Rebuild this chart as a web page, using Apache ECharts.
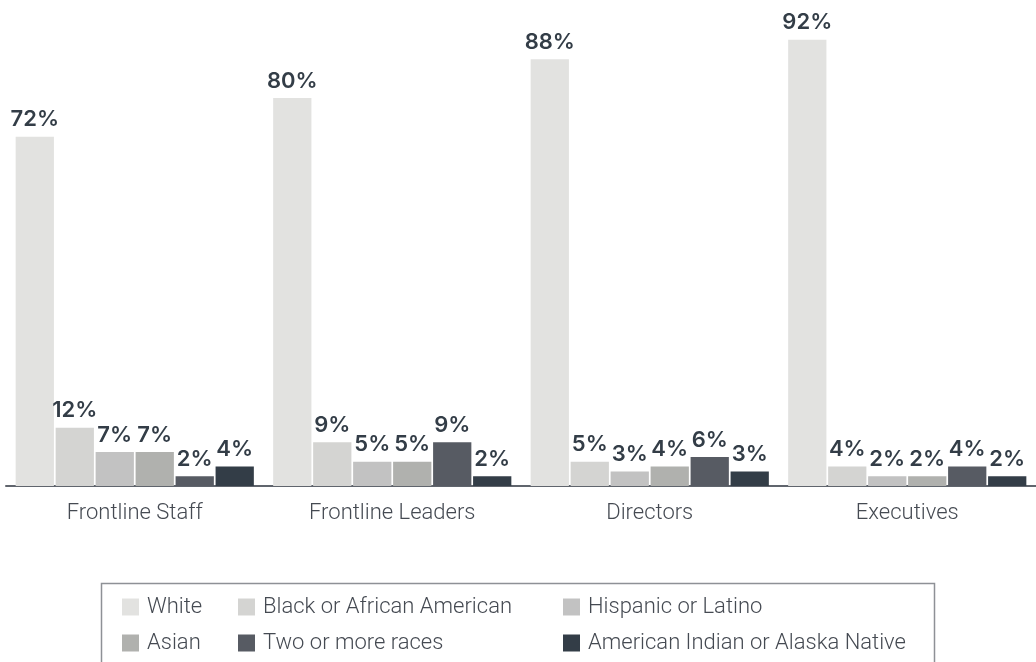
<!DOCTYPE html>
<html>
<head>
<meta charset="utf-8">
<script src="https://cdn.jsdelivr.net/npm/echarts@6/dist/echarts.min.js"></script>
<style>
	html, body { margin: 0; padding: 0; background: #fff; }
	#chart { width: 1036px; height: 662px; }
</style>
</head>
<body>
<div id="chart"></div>
<script>
	// data (percent)
	var categories = ['Frontline Staff', 'Frontline Leaders', 'Directors', 'Executives'];
	var seriesNames = ['White', 'Black or African American', 'Hispanic or Latino', 'Asian', 'Two or more races', 'American Indian or Alaska Native'];
	var white = [72, 80, 88, 92];
	var black = [12, 9, 5, 4];
	var hispanic = [7, 5, 3, 2];
	var asian = [7, 5, 4, 2];
	var twoOrMore = [2, 9, 6, 4];
	var amIndian = [4, 2, 3, 2];

	var colors = ['#e2e2e0', '#d4d4d2', '#c2c2c2', '#b0b1ae', '#575b63', '#333d47'];
	var values = [white, black, hispanic, asian, twoOrMore, amIndian];

	var series = seriesNames.map(function(name, i) {
		return {
			name: name,
			type: 'bar',
			data: values[i],
			barGap: '4.5%',
			barCategoryGap: '7.5%',
			itemStyle: { color: colors[i] },
			label: {
				show: true,
				position: 'top',
				distance: 6,
				formatter: '{c}%',
				color: '#333d47',
				fontFamily: 'Inter',
				fontWeight: 600,
				fontSize: 22
			}
		};
	});

	// three legend columns, two rows each
	function legendCol(left, names) {
		return {
			orient: 'vertical',
			left: left,
			top: 596,
			padding: 0,
			itemGap: 14,
			itemWidth: 17,
			itemHeight: 17,
			icon: 'rect',
			data: names,
			textStyle: {
				color: '#454a52',
				fontFamily: 'Roboto',
				fontWeight: 300,
				fontSize: 22,
				padding: [0, 0, 0, 3]
			}
		};
	}

	var option = {
		color: colors,
		animation: false,
		grid: {
			left: 6,
			right: 0,
			top: 1,
			bottom: 176,
			containLabel: false
		},
		legend: [
			legendCol(122, [seriesNames[0], seriesNames[3]]),
			legendCol(238, [seriesNames[1], seriesNames[4]]),
			legendCol(563, [seriesNames[2], seriesNames[5]])
		],
		graphic: [{
			type: 'rect',
			left: 99,
			top: 581,
			shape: { width: 833, height: 120 },
			style: { fill: 'none', stroke: '#8e9196', lineWidth: 1.5 },
			silent: true
		}],
		xAxis: {
			type: 'category',
			data: categories,
			axisLine: { lineStyle: { color: '#60656d', width: 2 } },
			axisTick: { show: false },
			axisLabel: {
				margin: 16,
				color: '#454a52',
				fontFamily: 'Roboto',
				fontWeight: 300,
				fontSize: 22
			}
		},
		yAxis: {
			type: 'value',
			min: 0,
			max: 100,
			show: false,
			splitLine: { show: false }
		},
		series: series
	};

	var myChart = echarts.init(document.getElementById('chart'));
	myChart.setOption(option);
</script>
</body>
</html>
